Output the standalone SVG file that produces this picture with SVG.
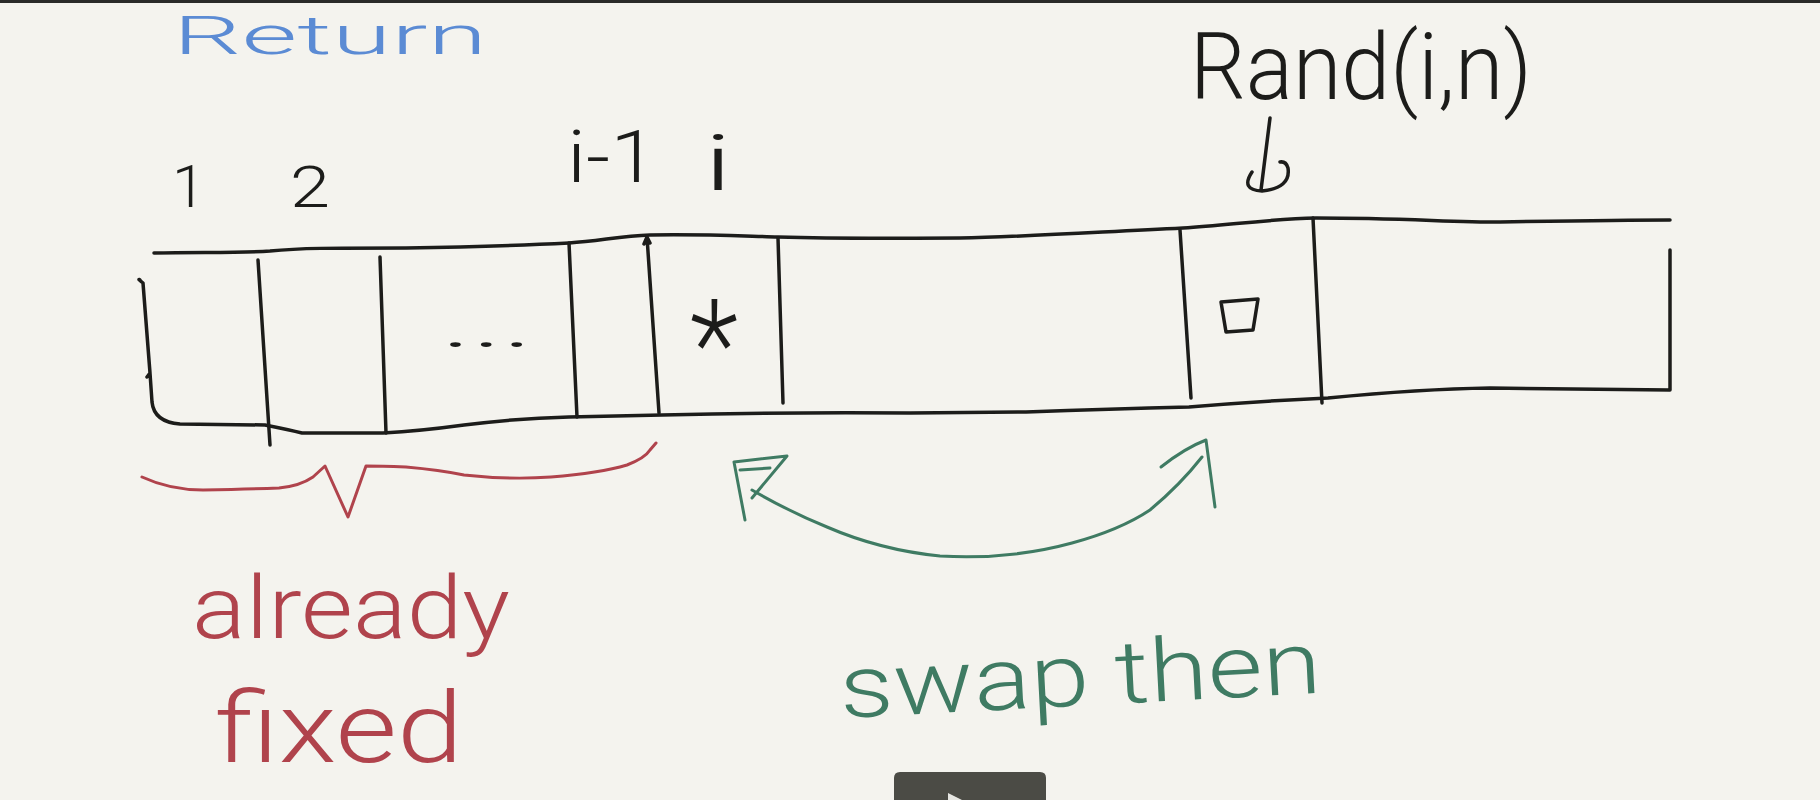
<svg xmlns="http://www.w3.org/2000/svg" width="1820" height="800" viewBox="0 0 1820 800">
<style>
.ink{fill:none;stroke:#1c1c1a;stroke-width:3.5;stroke-linecap:round;stroke-linejoin:round}
.red{fill:none;stroke:#b0434c;stroke-width:3;stroke-linecap:round;stroke-linejoin:round}
.grn{fill:none;stroke:#3f7b63;stroke-width:3;stroke-linecap:round;stroke-linejoin:round}
.t{font-family:Roboto,"Liberation Sans",sans-serif;font-weight:300}
.tb{fill:#1c1c1a}
.tr{fill:#b0434c}
.tg{fill:#3f7b63}
</style>
<rect width="1820" height="800" fill="#f4f3ee"/>
<rect width="1820" height="3" fill="#2a2a28"/>
<g id="title">
<text class="t" x="173" y="54" font-size="54" textLength="314" lengthAdjust="spacingAndGlyphs" fill="#5b8bd4">Return</text>
</g>
<g id="index-labels">
<text class="t tb" x="172" y="207" font-size="60">1</text>
<text class="t tb" x="290" y="207" font-size="58" textLength="40" lengthAdjust="spacingAndGlyphs">2</text>
<text class="t tb" x="567" y="182" font-size="72" textLength="90" lengthAdjust="spacingAndGlyphs">i-1</text>
<text class="t tb" x="704" y="190" font-size="78" textLength="28" lengthAdjust="spacingAndGlyphs">i</text>
<text class="t tb" x="1190" y="99" font-size="92" textLength="342" lengthAdjust="spacingAndGlyphs">Rand(i,n)</text>
</g>
<g id="array">
<path class="ink" d="M154,253 C200,252 240,253 270,251 C300,248 330,248 406,248 C470,247 530,245 569,243 C600,241 620,236 650,235 C700,234 740,236 778,237 C850,239 900,238 960,238 C1020,237 1080,233 1183,228 C1230,225 1270,219 1316,218 C1400,218 1450,222 1500,222 C1560,221 1620,220 1670,220"/>
<path class="ink" d="M140,280 Q137,278 143,283 L150,373 L147,377 M150,373 L152,402 Q154,422 180,424 L265,425 Q290,430 302,433 L383,433 Q420,431 464,425 Q520,418 569,417 L662,415 Q780,412 910,413 L1026,412 Q1110,409 1189,407 Q1260,401 1328,398 Q1420,389 1490,388 L1670,390 L1670,250"/>
<path class="ink" d="M258,260 L270,445"/>
<path class="ink" d="M380,257 L386,433"/>
<path class="ink" d="M569,243 L577,417"/>
<path class="ink" d="M647,237 L659,413 M644,244 L647,237 L650,243"/>
<path class="ink" d="M778,238 L783,403"/>
<path class="ink" d="M1180,230 L1191,398"/>
<path class="ink" d="M1313,218 L1322,403"/>
</g>
<g id="cell-contents">
<text class="t tb" x="441" y="347" font-size="60" textLength="92" lengthAdjust="spacingAndGlyphs">...</text>
<text class="t tb" x="690" y="388" font-size="125" textLength="48" lengthAdjust="spacingAndGlyphs">*</text>
<path class="ink" d="M1221,302 L1258,299 L1253,330 L1226,332 Z"/>
</g>
<g id="brace">
<path class="red" d="M142,477 Q170,490 203,490 Q250,489 279,488 Q300,486 313,477 L325,466 L348,517 L366,466 Q380,466 406,467 Q440,470 464,475 Q510,480 551,477 Q600,473 627,465 Q645,458 650,450 L656,443"/>
</g>
<g id="connectors">
<path class="ink" d="M1270,118 L1261,190 M1252,172 Q1240,190 1262,191 Q1291,188 1288,168 Q1286,161 1280,162"/>
<path class="grn" d="M752,490 Q790,512 827,527 Q880,550 940,556 Q1010,560 1072,543 Q1120,530 1150,510 Q1180,485 1202,457"/>
<path class="grn" d="M745,520 L734,462 L787,456 L752,498 M740,470 L770,468"/>
<path class="grn" d="M1161,467 Q1185,448 1206,440 L1215,507"/>
</g>
<g id="label-already-fixed">
<text class="t tr" x="192" y="638" font-size="88" textLength="318" lengthAdjust="spacingAndGlyphs">already</text>
<text class="t tr" x="215" y="762" font-size="98" textLength="248" lengthAdjust="spacingAndGlyphs">fixed</text>
</g>
<g id="label-swap-then">
<text class="t tg" x="841" y="718" font-size="88" textLength="482" lengthAdjust="spacingAndGlyphs" transform="rotate(-3 841 718)">swap then</text>
</g>
<g id="player-control">
<path d="M894,800 L894,778 Q894,772 900,772 L1040,772 Q1046,772 1046,778 L1046,800 Z" fill="#4b4b45"/>
<path d="M948,793 L962,800 L948,800 Z" fill="#e6e6e2"/>
</g>
</svg>
